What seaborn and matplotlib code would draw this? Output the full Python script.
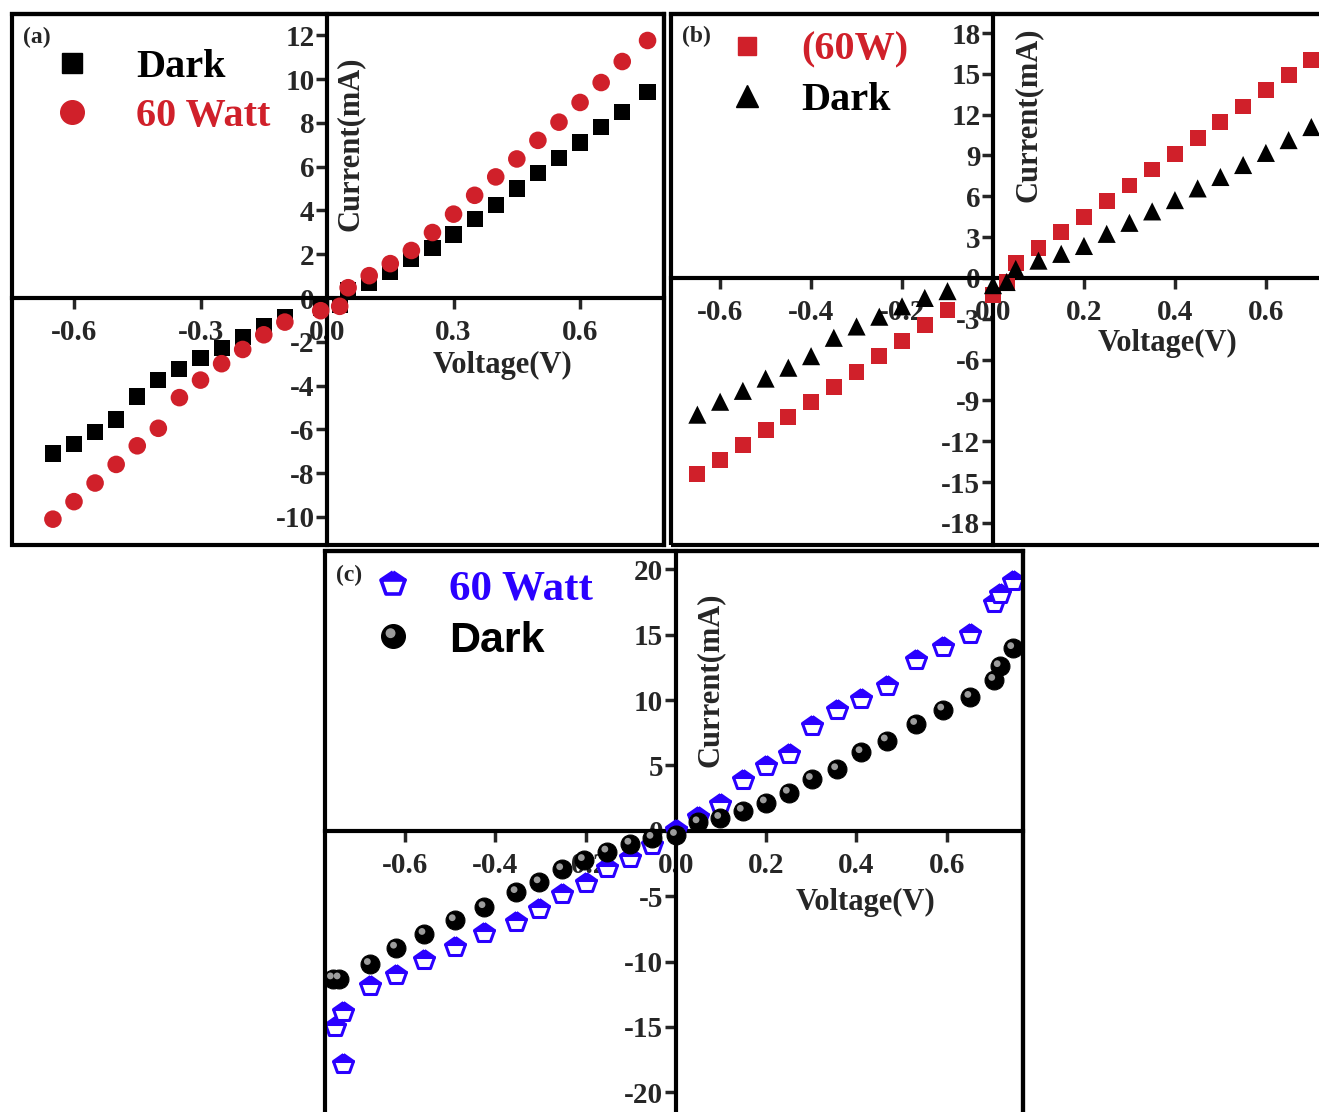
import numpy as np
import matplotlib
matplotlib.use('Agg')
import matplotlib.pyplot as plt
import seaborn as sns
from matplotlib.lines import Line2D
from matplotlib.markers import MarkerStyle
from matplotlib.patches import Rectangle
from matplotlib.path import Path
from matplotlib.legend_handler import HandlerTuple

sns.set_style('ticks')
plt.rcParams['font.family'] = ['Liberation Serif', 'DejaVu Serif']
plt.rcParams['font.weight'] = 'bold'
plt.rcParams['axes.unicode_minus'] = False

RED = '#d0202a'
BLUE = '#2a00ff'

# (a) I-V, dark vs 60 W
a_v_dark = [-0.65, -0.60, -0.55, -0.50, -0.45, -0.40, -0.35, -0.30, -0.25, -0.20, -0.15, -0.10,
            -0.015, 0.03, 0.05, 0.10, 0.15, 0.20, 0.25, 0.30, 0.35, 0.40, 0.45, 0.50, 0.55,
            0.60, 0.65, 0.70, 0.76]
a_i_dark = [-7.1, -6.65, -6.1, -5.55, -4.5, -3.75, -3.25, -2.75, -2.3, -1.8, -1.3, -0.85,
            -0.45, -0.3, 0.35, 0.7, 1.2, 1.8, 2.3, 2.9, 3.6, 4.25, 5.0, 5.7, 6.4,
            7.1, 7.8, 8.5, 9.4]
a_v_60w = [-0.65, -0.60, -0.55, -0.50, -0.45, -0.40, -0.35, -0.30, -0.25, -0.20, -0.15, -0.10,
           -0.015, 0.03, 0.05, 0.10, 0.15, 0.20, 0.25, 0.30, 0.35, 0.40, 0.45, 0.50, 0.55,
           0.60, 0.65, 0.70, 0.76]
a_i_60w = [-10.1, -9.3, -8.45, -7.6, -6.75, -5.95, -4.55, -3.75, -3.0, -2.35, -1.68, -1.1,
           -0.58, -0.38, 0.47, 1.02, 1.57, 2.17, 2.99, 3.83, 4.69, 5.53, 6.35, 7.2, 8.03,
           8.93, 9.84, 10.8, 11.76]

# (b)
b_v = [-0.65, -0.60, -0.55, -0.50, -0.45, -0.40, -0.35, -0.30, -0.25, -0.20, -0.15, -0.10,
       0.0, 0.03, 0.05, 0.10, 0.15, 0.20, 0.25, 0.30, 0.35, 0.40, 0.45, 0.50, 0.55, 0.60,
       0.65, 0.70]
b_i_60w = [-14.4, -13.4, -12.3, -11.2, -10.2, -9.1, -8.0, -6.9, -5.75, -4.66, -3.47, -2.33,
           -1.24, -0.3, 1.09, 2.23, 3.37, 4.5, 5.65, 6.8, 7.97, 9.14, 10.3, 11.47, 12.6, 13.8,
           14.9, 16.0]
b_i_dark = [-10.05, -9.1, -8.3, -7.4, -6.6, -5.75, -4.4, -3.57, -2.85, -2.09, -1.47, -0.97,
            -0.53, -0.3, 0.66, 1.27, 1.77, 2.35, 3.24, 4.05, 4.89, 5.72, 6.58, 7.42, 8.3, 9.19,
            10.13, 11.09]

# (c)
c_v_60w = [-0.755, -0.738, -0.738, -0.678, -0.62, -0.557, -0.49, -0.424, -0.353, -0.302, -0.252,
           -0.2, -0.152, -0.101, -0.052, 0.0, 0.05, 0.098, 0.148, 0.199, 0.25, 0.301, 0.357,
           0.411, 0.467, 0.532, 0.592, 0.652, 0.705, 0.717, 0.747]
c_i_60w = [-15.0, -13.85, -17.8, -11.9, -11.0, -9.9, -8.9, -7.85, -6.95, -5.95, -4.85, -4.0,
           -2.85, -2.05, -1.1, 0.1, 1.05, 2.07, 3.87, 4.92, 5.89, 8.02, 9.26, 10.09, 11.1,
           13.08, 14.04, 15.07, 17.42, 18.1, 19.1]
c_v_dark = [-0.76, -0.745, -0.678, -0.62, -0.557, -0.49, -0.424, -0.353, -0.302, -0.252, -0.204,
            -0.152, -0.101, -0.052, 0.0, 0.05, 0.098, 0.148, 0.199, 0.25, 0.301, 0.357, 0.411,
            0.467, 0.532, 0.592, 0.652, 0.705, 0.717, 0.747]
c_i_dark = [-11.3, -11.3, -10.2, -8.95, -7.9, -6.85, -5.85, -4.7, -3.95, -2.95, -2.25, -1.6,
            -1.0, -0.55, -0.33, 0.64, 0.97, 1.52, 2.16, 2.9, 3.95, 4.7, 6.0, 6.9, 8.16, 9.26,
            10.23, 11.53, 12.58, 13.96]

a_xticks = [-0.6, -0.3, 0.0, 0.3, 0.6]
a_yticks = list(range(-10, 13, 2))
b_xticks = [-0.6, -0.4, -0.2, 0.0, 0.2, 0.4, 0.6]
b_yticks = list(range(-18, 19, 3))
c_xticks = [-0.6, -0.4, -0.2, 0.0, 0.2, 0.4, 0.6]
c_yticks = list(range(-20, 21, 5))

# sphere highlight marker: small disc up-left of centre, scaled against a unit box
hl = Path.make_compound_path(Path.circle((-0.25, 0.28), 0.36),
                             Path([[1.0, 1.0]], [Path.MOVETO]),
                             Path([[-1.0, -1.0]], [Path.MOVETO]))
HL_COLOR = '#9c9c9c'
# half-filled pentagon (blue top, white bottom)
pent = MarkerStyle('p', fillstyle='top', joinstyle='round')


def style_axes(ax, xlim, ylim, xticks, yticks):
    ax.set_xlim(xlim)
    ax.set_ylim(ylim)
    ax.spines['left'].set_position(('data', 0))
    ax.spines['bottom'].set_position(('data', 0))
    for s in ax.spines.values():
        s.set_linewidth(3)
        s.set_color('black')
    ax.add_patch(Rectangle((0, 0), 1, 1, transform=ax.transAxes, fill=False, lw=3,
                           ec='black', clip_on=False, zorder=5))
    ax.set_xticks(xticks)
    ax.set_xticklabels(['%.1f' % t for t in xticks])
    ax.set_yticks(yticks)
    ax.set_yticklabels([str(t) for t in yticks])
    ax.tick_params(axis='both', direction='out', length=8, width=2.5, labelsize=21,
                   bottom=True, left=True, top=False, right=False)
    ax.tick_params(axis='x', pad=7)
    ax.tick_params(axis='y', pad=1)
    ax.set_xlabel('')
    ax.set_ylabel('')
    ax.set_facecolor('white')


fig = plt.figure(figsize=(13.19, 11.12), dpi=100)
W, H = 1319, 1112
ax_a = fig.add_axes([12 / W, 1 - 545 / H, 652 / W, 531 / H])
ax_b = fig.add_axes([671 / W, 1 - 545 / H, 664 / W, 531 / H])
ax_c = fig.add_axes([325 / W, 1 - 1125 / H, 698 / W, 574 / H])

# ---- (a)
sns.scatterplot(x=a_v_dark, y=a_i_dark, ax=ax_a, marker='s', color='black', s=135,
                edgecolor='none', zorder=3, legend=False)
sns.scatterplot(x=a_v_60w, y=a_i_60w, ax=ax_a, marker='o', color=RED, s=160,
                edgecolor='none', zorder=4, legend=False)
style_axes(ax_a, (-0.747, 0.799), (-11.28, 12.97), a_xticks, a_yticks)
ax_a.text(0.518, 0.755, 'Current(mA)', rotation=90, ha='center', va='center',
          fontsize=22, transform=ax_a.transAxes)
ax_a.text(0.753, 0.339, 'Voltage(V)', ha='center', va='center', fontsize=22,
          transform=ax_a.transAxes)
ax_a.text(0.038, 0.955, '(a)', ha='center', va='center', fontsize=17,
          transform=ax_a.transAxes)
h_a = [Line2D([], [], marker='s', ls='', color='black', markersize=14),
       Line2D([], [], marker='o', ls='', color=RED, markersize=17)]
ax_a.legend(h_a, ['Dark', '60 Watt'], loc='upper left', bbox_to_anchor=(0.055, 0.935),
            frameon=False, fontsize=29, handlelength=1.2, handletextpad=1.0,
            labelspacing=0.3, borderpad=0, borderaxespad=0, labelcolor=['black', RED])

# ---- (b)
sns.scatterplot(x=b_v, y=b_i_60w, ax=ax_b, marker='s', color=RED, s=130,
                edgecolor='none', zorder=3, legend=False)
sns.scatterplot(x=b_v, y=b_i_dark, ax=ax_b, marker='^', color='black', s=170,
                edgecolor='none', zorder=4, legend=False)
style_axes(ax_b, (-0.708, 0.752), (-19.63, 19.4), b_xticks, b_yticks)
ax_b.text(0.538, 0.81, 'Current(mA)', rotation=90, ha='center', va='center',
          fontsize=22, transform=ax_b.transAxes)
ax_b.text(0.748, 0.38, 'Voltage(V)', ha='center', va='center', fontsize=22,
          transform=ax_b.transAxes)
ax_b.text(0.039, 0.957, '(b)', ha='center', va='center', fontsize=17,
          transform=ax_b.transAxes)
h_b = [Line2D([], [], marker='s', ls='', color=RED, markersize=13),
       Line2D([], [], marker='^', ls='', color='black', markersize=16)]
ax_b.legend(h_b, ['(60W)', 'Dark'], loc='upper left', bbox_to_anchor=(0.084, 0.967),
            frameon=False, fontsize=29, handlelength=1.0, handletextpad=0.85,
            labelspacing=0.33, borderpad=0, borderaxespad=0, labelcolor=[RED, 'black'])

# ---- (c)
ax_c.plot(c_v_60w, c_i_60w, ls='', marker=pent, markersize=14.5, color=BLUE,
          markerfacecoloralt='white', markeredgecolor=BLUE, markeredgewidth=2.2, zorder=3)
sns.scatterplot(x=c_v_dark, y=c_i_dark, ax=ax_c, marker='o', color='black', s=185,
                edgecolor='black', linewidth=0.8, zorder=4, legend=False)
sns.scatterplot(x=c_v_dark, y=c_i_dark, ax=ax_c, marker=hl, color=HL_COLOR, s=185,
                edgecolor='none', zorder=4.5, legend=False)
style_axes(ax_c, (-0.777, 0.769), (-22.5, 21.4), c_xticks, c_yticks)
ax_c.text(0.552, 0.775, 'Current(mA)', rotation=90, ha='center', va='center',
          fontsize=22, transform=ax_c.transAxes)
ax_c.text(0.774, 0.387, 'Voltage(V)', ha='center', va='center', fontsize=22,
          transform=ax_c.transAxes)
ax_c.text(0.034, 0.958, '(c)', ha='center', va='center', fontsize=17,
          transform=ax_c.transAxes)
h_c = [Line2D([], [], marker=pent, ls='', color=BLUE, markersize=18,
              markerfacecoloralt='white', markeredgecolor=BLUE, markeredgewidth=2.6),
       (Line2D([], [], marker='o', ls='', color='black', markersize=17),
        Line2D([], [], marker=hl, ls='', color=HL_COLOR, markersize=17))]
leg = ax_c.legend(h_c, ['60 Watt', 'Dark'], loc='upper left', bbox_to_anchor=(0.067, 0.968),
                  frameon=False, fontsize=31, handlelength=1.0, handletextpad=0.8,
                  labelspacing=0.28, borderpad=0, borderaxespad=0,
                  labelcolor=[BLUE, 'black'], handler_map={tuple: HandlerTuple(ndivide=1)})
leg.get_texts()[1].set_family('Liberation Sans')

fig.savefig('out.png', dpi=100, facecolor='white')
